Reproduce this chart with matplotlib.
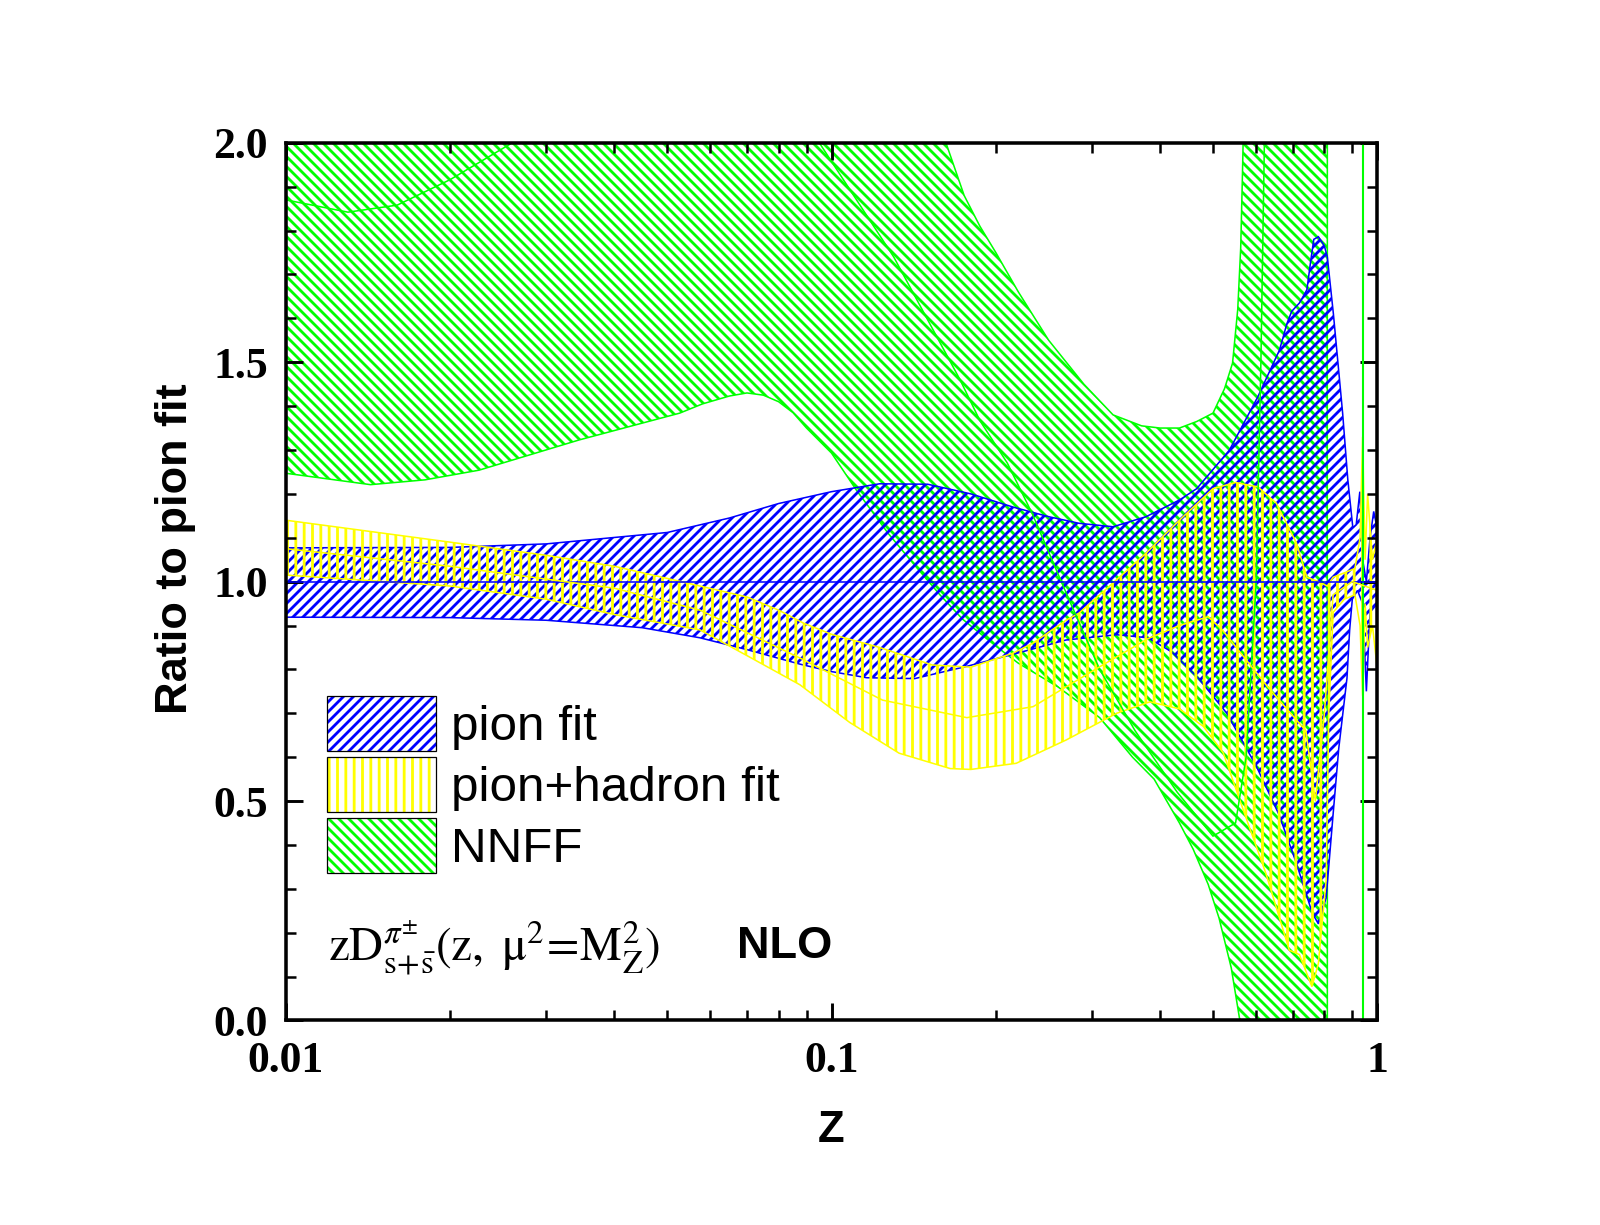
import numpy as np
import matplotlib
matplotlib.use("Agg")
import matplotlib.pyplot as plt
from matplotlib.patches import Patch
from matplotlib.legend_handler import HandlerTuple
from matplotlib.ticker import MultipleLocator, LogLocator, NullFormatter

# ---------------- data ----------------
# pion fit band (ratio to itself -> central = 1)
pion_up_z = [0.01, 0.02, 0.03, 0.05, 0.065, 0.08, 0.1, 0.1225, 0.15, 0.18, 0.215, 0.25,
             0.284, 0.328, 0.377, 0.434, 0.467, 0.536, 0.604, 0.662, 0.683, 0.697, 0.72,
             0.743, 0.755, 0.765, 0.78, 0.80, 0.81, 0.831, 0.864, 0.883, 0.902, 0.915,
             0.929, 0.94, 0.955, 0.97, 0.985, 1.0]
pion_up = [1.077, 1.078, 1.086, 1.112, 1.145, 1.178, 1.205, 1.223, 1.222, 1.20, 1.17, 1.148,
           1.133, 1.125, 1.148, 1.186, 1.212, 1.30, 1.421, 1.528, 1.588, 1.616, 1.635,
           1.665, 1.73, 1.78, 1.786, 1.765, 1.74, 1.61, 1.384, 1.233, 1.123, 1.13,
           1.205, 1.05, 1.0, 1.10, 1.16, 1.12]
pion_lo_z = [0.01, 0.02, 0.03, 0.045, 0.0574, 0.07, 0.0875, 0.1, 0.116, 0.142, 0.177, 0.219,
             0.269, 0.333, 0.38, 0.42, 0.47, 0.53, 0.60, 0.66, 0.71, 0.76, 0.78, 0.806,
             0.83, 0.85, 0.88, 0.89, 0.90, 0.92, 0.94, 0.955, 0.97, 1.0]
pion_lo = [0.919, 0.918, 0.912, 0.895, 0.872, 0.845, 0.812, 0.795, 0.781, 0.779, 0.807, 0.837,
           0.867, 0.879, 0.872, 0.84, 0.78, 0.70, 0.58, 0.47, 0.36, 0.245, 0.22, 0.28,
           0.47, 0.62, 0.78, 0.89, 0.96, 0.98, 0.95, 0.75, 0.93, 0.95]
pion_mid_z = [0.01, 1.0]
pion_mid = [1.0, 1.0]

# pion+hadron fit band
had_up_z = [0.01, 0.02, 0.03, 0.04, 0.053, 0.07, 0.08, 0.089, 0.1, 0.1225, 0.153, 0.18,
            0.215, 0.234, 0.269, 0.284, 0.33, 0.377, 0.434, 0.5, 0.55, 0.604, 0.653,
            0.711, 0.743, 0.78, 0.81, 0.83, 0.87, 0.91, 0.93, 0.94, 0.95, 0.96, 0.98, 1.0]
had_up = [1.14, 1.09, 1.06, 1.035, 1.0, 0.965, 0.935, 0.905, 0.88, 0.85, 0.81, 0.805,
          0.837, 0.86, 0.912, 0.928, 1.0, 1.065, 1.14, 1.212, 1.226, 1.216, 1.179,
          1.088, 1.01, 1.0, 0.99, 1.01, 1.02, 1.03, 1.1, 1.33, 1.05, 1.2, 1.05, 1.1]
had_lo_z = [0.01, 0.02, 0.03, 0.04, 0.0574, 0.0708, 0.0875, 0.108, 0.133, 0.165, 0.18, 0.218,
            0.269, 0.333, 0.383, 0.434, 0.48, 0.522, 0.577, 0.625, 0.69, 0.72, 0.759,
            0.78, 0.806, 0.815, 0.83, 0.87, 0.91, 0.93, 0.94, 0.95, 0.96, 0.98, 1.0]
had_lo = [1.015, 0.99, 0.96, 0.925, 0.89, 0.828, 0.765, 0.679, 0.609, 0.574, 0.572, 0.586,
          0.639, 0.70, 0.726, 0.71, 0.67, 0.61, 0.456, 0.335, 0.16, 0.15, 0.077,
          0.13, 0.32, 0.70, 0.93, 0.96, 0.97, 0.9, 0.74, 0.95, 0.85, 0.9, 0.8]
had_mid_z = [0.01, 0.02, 0.04, 0.0574, 0.0875, 0.124, 0.177, 0.234, 0.31, 0.38, 0.434,
             0.49, 0.52, 0.63, 0.74, 0.77, 0.80, 0.83, 0.9, 1.0]
had_mid = [1.075, 1.035, 0.985, 0.935, 0.826, 0.73, 0.69, 0.715, 0.806, 0.87, 0.9,
           0.92, 0.89, 0.76, 0.66, 0.5, 0.7, 0.97, 1.0, 0.98]

# NNFF band
nnff_up_z = [0.01, 0.05, 0.1, 0.14, 0.16, 0.175, 0.187, 0.2, 0.22, 0.25, 0.29, 0.328, 0.37,
             0.40, 0.434, 0.467, 0.50, 0.525, 0.543, 0.555, 0.562, 0.566, 0.57, 0.60, 0.81]
nnff_up = [2.6, 2.6, 2.6, 2.2, 2.02, 1.88, 1.81, 1.75, 1.66, 1.55, 1.45, 1.38, 1.355,
           1.35, 1.35, 1.365, 1.384, 1.44, 1.498, 1.62, 1.76, 1.92, 2.1, 2.6, 2.6]
nnff_lo_z = [0.01, 0.0143, 0.018, 0.0226, 0.0345, 0.0527, 0.058, 0.065, 0.07, 0.075, 0.08,
             0.085, 0.09, 0.1, 0.111, 0.127, 0.141, 0.158, 0.174, 0.201, 0.22, 0.26, 0.31,
             0.356, 0.39, 0.434, 0.46, 0.49, 0.513, 0.54, 0.56, 0.6, 0.81]
nnff_lo = [1.247, 1.221, 1.232, 1.254, 1.323, 1.384, 1.405, 1.423, 1.43, 1.425, 1.41,
           1.385, 1.35, 1.293, 1.209, 1.11, 1.042, 0.97, 0.914, 0.851, 0.814, 0.76, 0.69,
           0.60, 0.55, 0.45, 0.39, 0.31, 0.233, 0.12, 0.0, -0.3, -0.6]
nnff_mid_z = [0.01, 0.013, 0.016, 0.02, 0.026, 0.04, 0.06, 0.08, 0.095, 0.13, 0.172, 0.187,
              0.21, 0.233, 0.27, 0.31, 0.36, 0.43, 0.5, 0.55, 0.575, 0.6, 0.612, 0.622, 0.635]
nnff_mid = [1.87, 1.842, 1.858, 1.916, 2.0, 2.25, 2.35, 2.2, 2.0, 1.74, 1.46, 1.367,
            1.27, 1.156, 0.97, 0.80, 0.66, 0.52, 0.42, 0.45, 0.6, 1.0, 1.5, 2.05, 2.6]
nnff_pole_z = 0.94

labels = ["pion fit", "pion+hadron fit", "NNFF"]
xtick_vals = [0.01, 0.1, 1]
xtick_labels = ["0.01", "0.1", "1"]
ytick_vals = [0.0, 0.5, 1.0, 1.5, 2.0]
ytick_labels = ["0.0", "0.5", "1.0", "1.5", "2.0"]

BLUE = "#0000ff"
YELLOW = "#ffff00"
GREEN = "#00ff00"
H_BLUE = "/////"
H_YELLOW = "|||"
H_GREEN = "\\\\\\\\\\"

plt.rcParams["hatch.linewidth"] = 1.35
plt.rcParams["mathtext.fontset"] = "stix"

fig = plt.figure(figsize=(1600 / 150, 1225 / 150), dpi=150)
ax = fig.add_axes([0.1786, 0.1670, 0.6822, 0.7164])


def band(ax, z_up, y_up, z_lo, y_lo, color, hatch):
    xs = np.concatenate([z_up, z_lo[::-1]])
    ys = np.concatenate([y_up, y_lo[::-1]])
    ax.fill(xs, ys, facecolor="none", edgecolor=color, hatch=hatch, linewidth=0.75)


# NNFF first, then pion, then pion+hadron on top
band(ax, nnff_up_z, nnff_up, nnff_lo_z, nnff_lo, GREEN, H_GREEN)
ax.plot(nnff_mid_z, nnff_mid, color=GREEN, lw=0.75)
ax.axvline(nnff_pole_z, color=GREEN, lw=1.0)

band(ax, pion_up_z, pion_up, pion_lo_z, pion_lo, BLUE, H_BLUE)
ax.plot(pion_mid_z, pion_mid, color=BLUE, lw=0.75)

band(ax, had_up_z, had_up, had_lo_z, had_lo, YELLOW, H_YELLOW)
ax.plot(had_mid_z, had_mid, color=YELLOW, lw=0.75)

# axes
ax.set_xscale("log")
ax.set_xlim(0.01, 1)
ax.set_ylim(0, 2)
ax.set_xticks(xtick_vals, xtick_labels)
ax.xaxis.set_minor_locator(LogLocator(base=10, subs=np.arange(2, 10)))
ax.xaxis.set_minor_formatter(NullFormatter())
ax.set_yticks(ytick_vals, ytick_labels)
ax.yaxis.set_minor_locator(MultipleLocator(0.1))

for s in ax.spines.values():
    s.set_linewidth(1.7)
ax.tick_params(which="both", direction="in", top=True, right=True)
ax.tick_params(which="major", length=8.3, width=1.4)
ax.tick_params(which="minor", length=4.6, width=1.2)
ax.tick_params(axis="x", which="major", pad=10)
ax.tick_params(axis="y", which="major", pad=8.5)
for lab in ax.get_xticklabels() + ax.get_yticklabels():
    lab.set_fontfamily("Liberation Serif")
    lab.set_fontweight("bold")
    lab.set_fontsize(21)

ax.set_xlabel("Z", fontfamily="Liberation Sans", fontweight="bold", fontsize=21)
ax.xaxis.set_label_coords(0.5, -0.1256)
ax.xaxis.label.set_va("center")
ax.set_ylabel("Ratio to pion fit", fontfamily="Liberation Sans", fontweight="bold",
              fontsize=21.7)
ax.yaxis.set_label_coords(-0.101, 0.537)
ax.yaxis.label.set_va("center")

# legend
handles = [
    (Patch(facecolor="none", edgecolor=BLUE, hatch=H_BLUE, lw=0),
     Patch(facecolor="none", edgecolor="black", lw=0.6)),
    (Patch(facecolor="none", edgecolor=YELLOW, hatch=H_YELLOW, lw=0),
     Patch(facecolor="none", edgecolor="black", lw=0.6)),
    (Patch(facecolor="none", edgecolor=GREEN, hatch=H_GREEN, lw=0),
     Patch(facecolor="none", edgecolor="black", lw=0.6)),
]
ax.legend(handles, labels, loc="upper left", bbox_to_anchor=(0.0374, 0.3697),
          frameon=False, borderpad=0, borderaxespad=0, handlelength=2.22,
          handleheight=1.33, labelspacing=0.13, handletextpad=0.3,
          prop={"family": "Liberation Sans", "size": 23.7},
          handler_map={tuple: HandlerTuple(ndivide=1)})

ax.text(0.039, 0.0677,
        r"$\mathrm{zD}^{\pi^{\pm}}_{\mathrm{s}\!+\!\bar{\mathrm{s}}}"
        r"\mathrm{(z,\ \mu^{2}\!=\!M_{Z}^{2})}$",
        transform=ax.transAxes, fontsize=22.5, ha="left", va="baseline")
ax.text(0.413, 0.0837, "NLO", transform=ax.transAxes, fontsize=21.7,
        fontfamily="Liberation Sans", fontweight="bold", ha="left", va="center")

fig.savefig("out.png", dpi=150)
